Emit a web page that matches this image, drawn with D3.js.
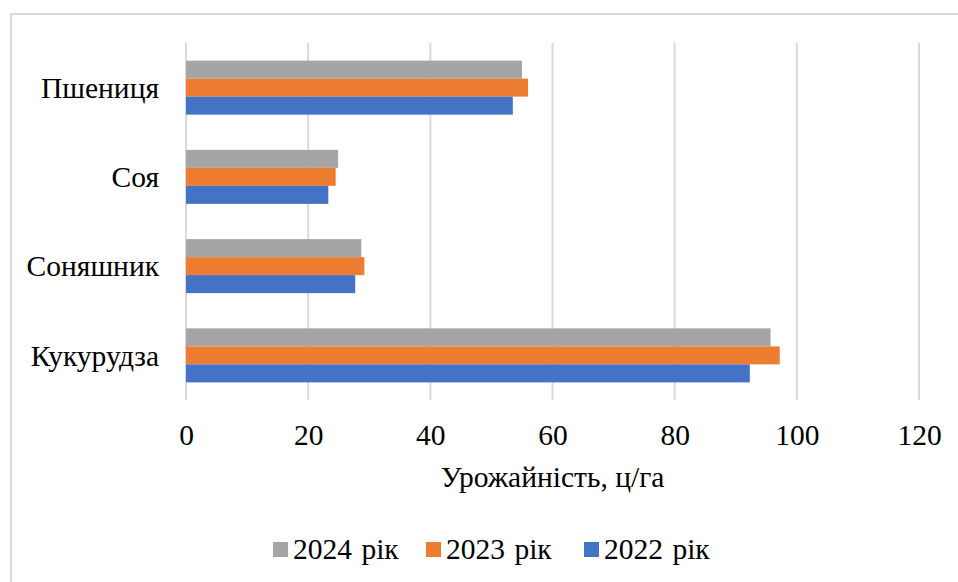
<!DOCTYPE html>
<html>
<head>
<meta charset="utf-8">
<script src="https://cdn.jsdelivr.net/npm/d3@7"></script>
</head>
<body style="margin:0">
<svg id="yields" width="958" height="582"></svg>
<script>
// Crop yields, c/ha, by year
const crops = ["Пшениця", "Соя", "Соняшник", "Кукурудза"];
const years = ["2024 рік", "2023 рік", "2022 рік"];
const yield2024 = [55.0, 24.9, 28.7, 95.7];
const yield2023 = [56.0, 24.5, 29.2, 97.2];
const yield2022 = [53.5, 23.3, 27.7, 92.3];
const xTicks = [0, 20, 40, 60, 80, 100, 120];
const colors = ["#A5A5A5", "#ED7D31", "#4472C4"];
const axisTitle = "Урожайність, ц/га";

const seriesValues = [yield2024, yield2023, yield2022];

const W = 958, H = 582;
const FONT = "Liberation Serif";
const FS = 29.5;

const svg = d3.select("#yields").style("display", "block");

// outer chart frame
svg.append("rect")
  .attr("x", 11).attr("y", 14)
  .attr("width", W + 20).attr("height", H + 20)
  .attr("fill", "#fff").attr("stroke", "#d9d9d9").attr("stroke-width", 2);

const plot = { left: 186, right: 919, top: 43, bottom: 400 };

const x = d3.scaleLinear().domain([0, 120]).range([plot.left, plot.right]);
const y = d3.scaleBand().domain(crops).range([plot.top, plot.bottom]).paddingInner(0.395).paddingOuter(0.1975);
const ySub = d3.scaleBand().domain(years).range([0, y.bandwidth()]);

// vertical gridlines
svg.append("g").selectAll("line").data(xTicks).join("line")
  .attr("x1", d => x(d)).attr("x2", d => x(d))
  .attr("y1", plot.top).attr("y2", plot.bottom)
  .attr("stroke", "#d9d9d9").attr("stroke-width", 2);

// bars
const groups = svg.append("g").selectAll("g").data(crops).join("g")
  .attr("transform", d => `translate(0,${y(d)})`);

groups.selectAll("rect")
  .data((c, i) => years.map((yr, s) => ({ yr, s, v: seriesValues[s][i] })))
  .join("rect")
  .attr("x", x(0))
  .attr("y", d => ySub(d.yr))
  .attr("width", d => x(d.v) - x(0))
  .attr("height", ySub.bandwidth())
  .attr("fill", d => colors[d.s]);

// x tick labels
const xAxis = d3.axisBottom(x).tickValues(xTicks).tickSize(0).tickPadding(0).tickFormat(d3.format("d"));
const gx = svg.append("g").attr("transform", `translate(0,${plot.bottom})`).call(xAxis);
gx.select(".domain").remove();
gx.selectAll("text").attr("y", 45).attr("dy", 0);

// category labels
const yAxis = d3.axisLeft(y).tickSize(0).tickPadding(0);
const gy = svg.append("g").attr("transform", `translate(${plot.left - 27},0)`).call(yAxis);
gy.select(".domain").remove();
gy.selectAll("text").attr("dy", "0.35em");

// axis title
svg.append("text")
  .attr("x", (plot.left + plot.right) / 2).attr("y", 487)
  .attr("text-anchor", "middle")
  .text(axisTitle);

// legend
const legendX = [273, 426, 584];
const legend = svg.append("g").selectAll("g").data(years).join("g")
  .attr("transform", (d, i) => `translate(${legendX[i]},542)`);
legend.append("rect").attr("width", 15).attr("height", 15).attr("fill", (d, i) => colors[i]);
legend.append("text")
  .attr("x", 20).attr("y", 17)
  .style("word-spacing", "2px")
  .text(d => d);

// shared typography for every label
svg.selectAll("text")
  .attr("font-family", FONT)
  .attr("font-size", FS)
  .attr("fill", "#000");
</script>
</body>
</html>
